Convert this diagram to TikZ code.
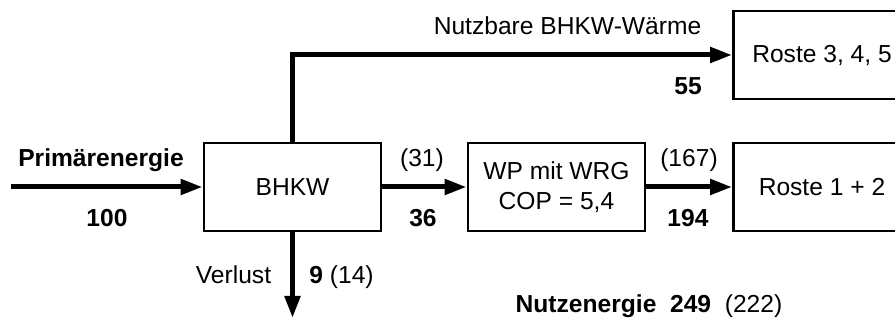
\documentclass[tikz,border=0pt]{standalone}
\usepackage{fontspec}
\setmainfont{Liberation Sans}
\usetikzlibrary{positioning,arrows.meta}
\tikzset{unitbox/.style={draw, line width=1.4pt, minimum width=88.5pt, minimum height=44pt, inner sep=0pt, align=center, font=\fontsize{12.3}{14.8}\selectfont}}
\tikzset{flow/.style={draw, line width=2.5pt, -{Triangle[length=11pt,width=7.5pt]}}}
\tikzset{lbl/.style={anchor=base, inner sep=0pt, font=\fontsize{12.3}{14.8}\selectfont}}
\tikzset{val/.style={lbl, font=\fontsize{12.3}{14.8}\selectfont\bfseries}}

\begin{document}
\begin{tikzpicture}[x=0.5pt, y=-0.5pt]
                \path[use as bounding box, clip] (0,0) rectangle (895,320);
                \node[unitbox] (bhkw) at (292.5,187) {BHKW};
                \node[unitbox] (wp) at (556.5,187) {WP mit WRG\\COP = 5,4};
                \node[unitbox] (r12) at (822,187) {Roste 1 + 2};
                \node[unitbox] (r345) at (822,55) {Roste 3, 4, 5};
                \coordinate (in) at (11,187);
                \coordinate (loss) at (292.5,318);
                %
                \draw[flow] (in) -- (bhkw);
                \draw[flow] (bhkw) -- (wp);
                \draw[flow] (wp) -- (r12);
                \draw[flow] (bhkw.north) |- (r345.west);
                \draw[flow] (bhkw.south) -- (loss);
                %
                \node[val] (pe) at (101,167) {Primärenergie};
                \node[val] (pe100) at (107,227) {100};
                \node[lbl] (waerme) at (567.5,35) {Nutzbare BHKW-Wärme};
                \node[val] (w55) at (688,95) {55};
                \node[lbl] (el31) at (422,167) {(31)};
                \node[val] (el36) at (423,227) {36};
                \node[lbl] (wp167) at (689,167) {(167)};
                \node[val] (wp194) at (688,227) {194};
                \node[lbl] (verlust) at (233.5,284) {Verlust};
                \node[lbl] (v9) at (341.5,284) {\textbf{9} (14)};
                \node[lbl] (nutz) at (649,313) {\textbf{Nutzenergie\ \ 249}\ \ (222)};
                %
            \end{tikzpicture}
\end{document}
